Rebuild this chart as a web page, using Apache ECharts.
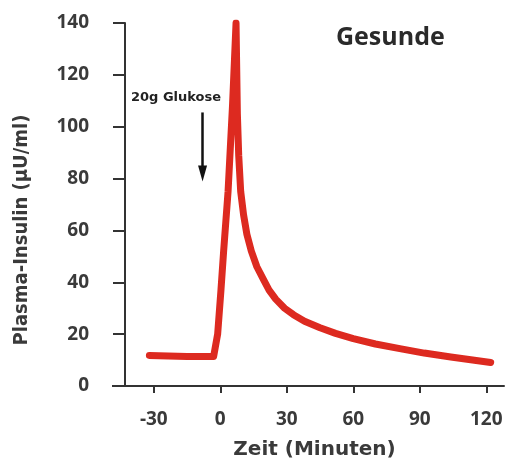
<!DOCTYPE html>
<html><head><meta charset="utf-8">
<script src="https://cdn.jsdelivr.net/npm/echarts@6/dist/echarts.min.js"></script>
<style>html,body{margin:0;padding:0;background:#fff}#c{width:509px;height:466px}</style>
</head><body><div id="c"></div>
<script>
const timeMin = [-32, -15, -3, -2.3, -1.2, 0.3, 1.5, 3.5, 5.5, 7.1, 7.7, 8.3, 9.2, 10.5, 12, 14, 16.5, 19.5, 22, 25, 29, 33, 38, 45, 52, 60, 70, 81, 92, 104, 113, 122];
const insulin = [11.8, 11.4, 11.4, 12, 20, 37, 52, 75, 108, 140, 105, 89, 75, 66, 58.5, 52, 46, 41, 37, 33.5, 30, 27.5, 25, 22.5, 20.3, 18.3, 16.2, 14.4, 12.7, 11.2, 10.1, 9.1];
const xTicks = [-30, 0, 30, 60, 90, 120];
const yTicks = [0, 20, 40, 60, 80, 100, 120, 140];
const arrowX = -8;
const arrowFrom = 105.5;
const arrowTo = 82;

const chart = echarts.init(document.getElementById('c'));
const tickFont = {fontFamily: 'Open Sans', fontWeight: 'bold', fontSize: 19, color: '#3a3a3a'};
chart.setOption({
  backgroundColor: '#fff',
  animation: false,
  title: {text: 'Gesunde', left: 331, top: 20, textStyle: {fontFamily: 'Open Sans', fontWeight: 'bold', fontSize: 25, color: '#2a2a2a'}},
  grid: {left: 125, right: 5, top: 23, bottom: 80},
  xAxis: {
    type: 'value', min: -43, max: 128,
    splitLine: {show: false},
    axisLine: {lineStyle: {color: '#333', width: 2}},
    axisTick: {customValues: xTicks, length: 7, lineStyle: {color: '#333', width: 2}},
    axisLabel: {customValues: xTicks, margin: 24, ...tickFont},
    name: 'Zeit (Minuten)', nameLocation: 'middle', nameGap: 54,
    nameTextStyle: {fontFamily: 'DejaVu Sans', fontWeight: 'bold', fontSize: 20, color: '#3a3a3a'}
  },
  yAxis: {
    type: 'value', min: 0, max: 140, interval: 20,
    splitLine: {show: false},
    axisLine: {show: true, onZero: false, lineStyle: {color: '#333', width: 2}},
    axisTick: {show: true, length: 12, lineStyle: {color: '#333', width: 2}},
    axisLabel: {margin: 36, ...tickFont}
  },
  graphic: [
    {type: 'line', shape: {x1: 112, y1: 386, x2: 125, y2: 386}, style: {stroke: '#333', lineWidth: 2}},
    {type: 'text', x: 22, y: 230, rotation: Math.PI / 2,
     style: {text: 'Plasma-Insulin (µU/ml)', align: 'center', verticalAlign: 'middle',
       font: 'bold 20px "DejaVu Sans Condensed", "Liberation Sans Narrow", sans-serif', fill: '#3a3a3a'}},
    {type: 'text', x: 131, y: 98,
     style: {text: '20g Glukose', align: 'left', verticalAlign: 'middle',
       font: 'bold 13px "DejaVu Sans", sans-serif', fill: '#222'}}
  ],
  series: [{
    type: 'line',
    data: timeMin.map((t, i) => [t, insulin[i]]),
    showSymbol: false,
    smooth: false,
    lineStyle: {color: '#dd2a20', width: 7, cap: 'round', join: 'round'},
    markLine: {
      silent: true,
      symbol: ['none', 'triangle'],
      symbolSize: [9, 16],
      label: {show: false},
      lineStyle: {color: '#111', width: 2.5, type: 'solid'},
      data: [[{coord: [arrowX, arrowFrom]}, {coord: [arrowX, arrowTo]}]]
    }
  }]
});
</script></body></html>
